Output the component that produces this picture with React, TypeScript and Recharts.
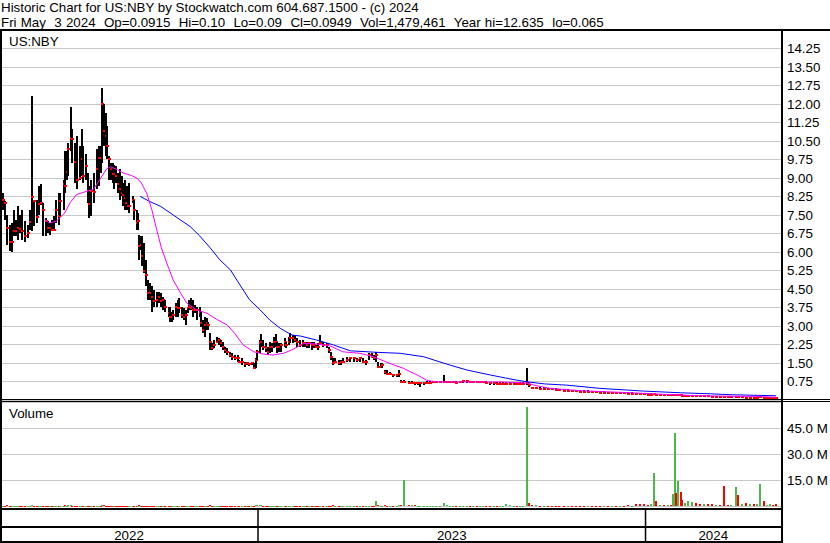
import React from 'react';
import { ComposedChart, Bar, Line, XAxis, YAxis, CartesianGrid } from 'recharts';

const FONT = '"Liberation Sans", Arial, Helvetica, sans-serif';
const FS = 13.33;

const headerLine1 = 'Historic Chart for US:NBY by Stockwatch.com 604.687.1500 - (c) 2024';
const headerLine2 = 'Fri May  3 2024  Op=0.0915  Hi=0.10  Lo=0.09  Cl=0.0949  Vol=1,479,461  Year hi=12.635  lo=0.065';
const symbolLabel = 'US:NBY';
const volumeLabel = 'Volume';

// x axis: calendar days counted from 2022-05-01
const xDomain: [number, number] = [1.98, 737.6];
const monthStartDays = [31, 61, 92, 123, 153, 184, 214, 245, 276, 304, 335, 365, 396, 426, 457, 488, 518, 549, 579, 610, 641, 670, 701, 731];
const yearStartDays = [245, 610];
const yearLabels = ['2022', '2023', '2024'];
const priceTicks = [0.75, 1.5, 2.25, 3, 3.75, 4.5, 5.25, 6, 6.75, 7.5, 8.25, 9, 9.75, 10.5, 11.25, 12, 12.75, 13.5, 14.25];
const volumeTicks = [15, 30, 45];

const barDays = [
  5, 7, 9, 11, 13, 15, 17, 19, 21, 23,
  26, 28, 30, 32, 34, 37, 39, 41, 43, 45,
  47, 49, 51, 53, 55, 58, 59, 62, 63, 65,
  66, 69, 70, 73, 75, 77, 79, 80, 83, 85,
  86, 88, 91, 93, 95, 97, 98, 100, 102, 103,
  105, 107, 108, 109, 111, 113, 115, 117, 118, 120,
  121, 123, 124, 127, 128, 131, 132, 133, 135, 136,
  138, 140, 141, 143, 144, 145, 147, 150, 152, 154,
  156, 157, 161, 162, 164, 165, 168, 170, 171, 173,
  175, 177, 179, 180, 182, 184, 186, 188, 190, 191,
  193, 195, 197, 198, 200, 202, 204, 206, 208, 210,
  212, 214, 216, 219, 221, 223, 226, 227, 230, 233,
  235, 237, 239, 241, 243, 244, 247, 248, 250, 253,
  254, 256, 258, 260, 262, 263, 265, 267, 270, 271,
  274, 275, 278, 280, 282, 285, 287, 289, 291, 293,
  296, 298, 300, 302, 303, 306, 310, 312, 314, 316,
  318, 321, 323, 325, 329, 332, 335, 338, 341, 344,
  347, 350, 352, 354, 356, 358, 361, 362, 365, 367,
  369, 372, 376, 378, 380, 383, 387, 390, 393, 396,
  398, 401, 404, 407, 410, 413, 416, 420, 423, 426,
  429, 432, 435, 438, 442, 445, 448, 451, 454, 457,
  460, 464, 467, 470, 473, 476, 479, 482, 486, 489,
  492, 495, 498, 500,
  503, 507, 511, 514, 518, 522, 526, 529, 533, 537,
  541, 545, 548, 552, 556, 560, 563, 567, 571, 575,
  578, 582, 586, 590, 594, 597, 601, 605, 609, 612,
  615, 618, 620, 624, 627, 631, 634, 636, 638, 639,
  641, 643, 644, 647, 650, 654, 658, 661, 665, 669,
  673, 676, 680, 684, 688, 691, 695, 697, 701, 705,
  708, 712, 715, 718, 722, 724, 727, 730, 733,
];

const barHigh = [
  8.40, 8.06, 7.52, 7.11, 7.20, 7.72, 7.32, 7.86, 7.52, 7.72,
  7.25, 7.11, 7.72, 12.33, 8.13, 8.13, 8.67, 8.74, 8.00, 7.38,
  7.25, 7.18, 7.32, 7.45, 8.13, 8.40, 8.40, 8.94, 10.10, 10.10,
  10.43, 11.86, 10.98, 10.43, 10.70, 10.30, 10.98, 10.30, 9.96, 9.21,
  8.67, 8.94, 9.21, 10.16, 10.30, 10.30, 12.64, 11.99, 11.65, 11.11,
  9.89, 9.62, 9.62, 9.55, 9.49, 9.21, 9.35, 9.08, 8.81, 8.94,
  8.67, 8.67, 8.81, 8.26, 8.13, 7.72, 7.59, 6.71, 6.64, 6.64,
  6.37, 5.69, 4.88, 4.74, 4.61, 4.61, 4.47, 4.40, 4.40, 4.34,
  4.20, 4.07, 3.79, 3.79, 3.59, 3.66, 3.93, 4.07, 4.13, 3.79,
  3.73, 3.66, 3.79, 4.07, 4.13, 4.07, 3.86, 3.79, 3.79, 3.59,
  3.25, 3.39, 3.32, 3.18, 2.71, 2.30, 2.44, 2.57, 2.51, 2.44,
  2.37, 2.17, 2.10, 1.96, 1.90, 1.83, 1.83, 1.63, 1.69, 1.56,
  1.56, 1.49, 1.56, 1.49, 1.69, 2.03, 2.44, 2.68, 2.44, 2.30,
  2.17, 2.37, 2.30, 2.57, 2.68, 2.37, 2.30, 2.30, 2.51, 2.37,
  2.57, 2.71, 2.64, 2.64, 2.51, 2.44, 2.44, 2.37, 2.37, 2.37,
  2.37, 2.37, 2.24, 2.30, 2.64, 2.37, 2.30, 2.17, 1.96, 1.69,
  1.69, 1.63, 1.63, 1.69, 1.76, 1.76, 1.76, 1.69, 1.76, 1.69,
  1.63, 1.90, 1.90, 1.83, 1.96, 1.56, 1.49, 1.49, 1.22, 1.22,
  1.15, 1.08, 1.08, 1.22, 0.81, 0.81, 0.77, 0.77, 0.74, 0.74,
  0.74, 0.74, 0.77, 0.77, 0.77, 0.77, 0.77, 1.02, 0.78, 0.78,
  0.78, 0.78, 0.78, 0.81, 0.81, 0.78, 0.78, 0.77, 0.77, 0.78,
  0.77, 0.74, 0.74, 0.74, 0.74, 0.74, 0.74, 0.74, 0.74, 0.74,
  0.74, 0.74, 1.29, 0.68,
  0.54, 0.55, 0.54, 0.52, 0.50, 0.50, 0.48, 0.46, 0.45, 0.44,
  0.43, 0.42, 0.41, 0.40, 0.40, 0.39, 0.38, 0.36, 0.36, 0.35,
  0.35, 0.34, 0.34, 0.33, 0.32, 0.32, 0.31, 0.30, 0.29, 0.29,
  0.28, 0.30, 0.27, 0.26, 0.25, 0.25, 0.24, 0.25, 0.27, 0.25,
  0.26, 0.24, 0.22, 0.22, 0.22, 0.21, 0.20, 0.19, 0.19, 0.18,
  0.18, 0.17, 0.17, 0.16, 0.16, 0.15, 0.16, 0.15, 0.14, 0.14,
  0.14, 0.13, 0.13, 0.14, 0.12, 0.12, 0.12, 0.11, 0.10,
];

const barLow = [
  7.72, 7.32, 6.30, 6.03, 6.00, 6.64, 6.64, 6.50, 6.78, 6.50,
  6.43, 6.57, 6.91, 6.84, 7.05, 7.18, 7.52, 7.90, 6.64, 6.64,
  6.78, 6.71, 6.84, 6.84, 7.18, 7.11, 7.45, 7.72, 8.40, 8.94,
  9.08, 10.09, 9.62, 8.81, 8.54, 8.94, 9.08, 8.81, 8.94, 8.00,
  7.39, 7.45, 8.00, 8.54, 8.67, 9.21, 9.62, 10.30, 9.89, 9.76,
  8.94, 8.94, 8.81, 8.54, 8.81, 8.40, 8.13, 8.26, 7.86, 7.72,
  7.72, 7.72, 7.59, 8.00, 7.32, 6.91, 6.91, 5.69, 6.10, 5.42,
  5.15, 4.61, 4.07, 4.07, 4.20, 3.59, 3.79, 3.79, 3.93, 3.79,
  3.66, 3.59, 3.39, 3.18, 3.18, 3.25, 3.39, 3.39, 3.52, 3.32,
  3.25, 3.05, 3.52, 3.66, 3.66, 3.39, 3.52, 3.25, 3.39, 2.98,
  2.71, 2.57, 2.85, 2.85, 2.03, 2.03, 2.10, 2.30, 2.24, 2.17,
  2.03, 1.90, 1.83, 1.76, 1.63, 1.63, 1.56, 1.49, 1.42, 1.35,
  1.42, 1.38, 1.42, 1.29, 1.29, 1.63, 1.90, 2.17, 2.03, 1.96,
  1.83, 1.90, 1.96, 2.10, 2.17, 1.90, 1.96, 1.96, 2.17, 2.10,
  2.24, 2.30, 2.30, 2.37, 2.17, 2.17, 2.17, 2.17, 2.10, 2.10,
  2.03, 2.10, 2.10, 2.03, 2.24, 2.17, 2.10, 1.90, 1.63, 1.42,
  1.49, 1.42, 1.42, 1.49, 1.56, 1.56, 1.56, 1.56, 1.56, 1.49,
  1.42, 1.63, 1.69, 1.63, 1.56, 1.29, 1.29, 1.29, 1.08, 1.02,
  1.02, 0.95, 0.95, 0.95, 0.68, 0.68, 0.65, 0.65, 0.61, 0.61,
  0.54, 0.61, 0.65, 0.65, 0.68, 0.68, 0.68, 0.68, 0.70, 0.70,
  0.68, 0.65, 0.68, 0.70, 0.70, 0.68, 0.68, 0.68, 0.68, 0.68,
  0.65, 0.61, 0.61, 0.61, 0.61, 0.61, 0.61, 0.61, 0.61, 0.61,
  0.61, 0.61, 0.61, 0.54,
  0.47, 0.46, 0.41, 0.42, 0.41, 0.41, 0.38, 0.37, 0.35, 0.35,
  0.34, 0.33, 0.32, 0.31, 0.31, 0.30, 0.30, 0.28, 0.27, 0.27,
  0.27, 0.26, 0.25, 0.25, 0.24, 0.24, 0.23, 0.22, 0.21, 0.21,
  0.20, 0.20, 0.20, 0.19, 0.18, 0.18, 0.17, 0.17, 0.18, 0.18,
  0.18, 0.17, 0.17, 0.16, 0.16, 0.15, 0.14, 0.13, 0.13, 0.12,
  0.12, 0.12, 0.11, 0.10, 0.10, 0.10, 0.10, 0.10, 0.09, 0.09,
  0.09, 0.09, 0.08, 0.08, 0.065, 0.08, 0.08, 0.08, 0.09,
];

const barClose = [
  8.10, 8.00, 6.98, 6.39, 6.43, 6.84, 6.84, 6.98, 6.95, 6.87,
  6.67, 6.78, 7.24, 8.22, 8.06, 7.43, 7.95, 8.00, 7.72, 7.25,
  6.98, 6.98, 6.91, 6.91, 7.72, 7.45, 8.06, 8.77, 8.67, 9.24,
  10.16, 10.64, 10.57, 9.65, 8.94, 9.01, 9.76, 9.08, 9.48, 8.47,
  7.93, 8.47, 8.43, 9.35, 9.82, 9.80, 12.02, 10.90, 10.70, 10.30,
  9.76, 9.35, 9.15, 9.15, 9.08, 8.74, 8.54, 8.40, 8.33, 8.20,
  8.00, 7.86, 7.86, 8.10, 7.72, 7.18, 7.25, 6.26, 6.30, 5.83,
  5.22, 5.08, 4.34, 4.40, 4.34, 4.20, 4.00, 4.07, 4.20, 4.00,
  4.07, 3.79, 3.52, 3.39, 3.39, 3.46, 3.79, 3.73, 3.73, 3.46,
  3.39, 3.46, 3.73, 3.79, 3.73, 3.66, 3.66, 3.66, 3.52, 3.12,
  2.85, 3.05, 3.12, 3.05, 2.37, 2.10, 2.24, 2.37, 2.44, 2.30,
  2.17, 2.03, 1.96, 1.83, 1.76, 1.69, 1.69, 1.56, 1.56, 1.46,
  1.49, 1.46, 1.49, 1.30, 1.63, 1.96, 2.30, 2.37, 2.17, 2.10,
  1.96, 2.17, 2.17, 2.37, 2.37, 2.17, 2.17, 2.24, 2.37, 2.24,
  2.37, 2.51, 2.51, 2.44, 2.37, 2.24, 2.30, 2.30, 2.24, 2.30,
  2.24, 2.24, 2.17, 2.14, 2.30, 2.24, 2.24, 2.03, 1.76, 1.49,
  1.56, 1.49, 1.56, 1.56, 1.63, 1.69, 1.69, 1.63, 1.69, 1.56,
  1.56, 1.83, 1.76, 1.69, 1.83, 1.35, 1.35, 1.42, 1.15, 1.08,
  1.08, 1.02, 1.02, 1.08, 0.74, 0.74, 0.70, 0.70, 0.68, 0.68,
  0.68, 0.68, 0.70, 0.70, 0.73, 0.73, 0.73, 0.74, 0.74, 0.74,
  0.74, 0.70, 0.73, 0.76, 0.76, 0.73, 0.73, 0.72, 0.72, 0.73,
  0.70, 0.68, 0.68, 0.65, 0.65, 0.65, 0.65, 0.65, 0.65, 0.64,
  0.64, 0.64, 0.68, 0.61,
  0.50, 0.50, 0.46, 0.47, 0.45, 0.44, 0.41, 0.40, 0.38, 0.38,
  0.37, 0.36, 0.35, 0.34, 0.34, 0.33, 0.32, 0.31, 0.31, 0.30,
  0.30, 0.29, 0.29, 0.28, 0.27, 0.27, 0.26, 0.25, 0.24, 0.23,
  0.23, 0.25, 0.22, 0.22, 0.21, 0.21, 0.20, 0.21, 0.22, 0.21,
  0.22, 0.20, 0.19, 0.19, 0.19, 0.19, 0.17, 0.16, 0.16, 0.15,
  0.14, 0.14, 0.13, 0.12, 0.11, 0.11, 0.12, 0.11, 0.11, 0.105,
  0.105, 0.10, 0.10, 0.11, 0.10, 0.10, 0.10, 0.095, 0.0949,
];

// volume in millions of shares
const barVolume = [
  0.4, 0.3, 0.5, 0.4, 0.3, 0.3, 0.2, 0.3, 0.3, 0.2,
  0.3, 0.2, 0.3, 0.8, 0.4, 0.3, 0.3, 0.2, 0.3, 0.3,
  0.2, 0.2, 0.3, 0.2, 0.3, 0.3, 0.3, 0.4, 0.6, 0.4,
  0.5, 0.5, 0.4, 0.4, 0.4, 0.3, 0.4, 0.3, 0.3, 0.3,
  0.3, 0.3, 0.3, 0.3, 0.3, 0.3, 0.7, 0.5, 0.4, 0.3,
  0.3, 0.3, 0.2, 0.2, 0.2, 0.2, 0.3, 0.2, 0.2, 0.2,
  0.2, 0.2, 0.2, 0.2, 0.3, 0.3, 0.2, 0.5, 0.3, 0.4,
  0.4, 0.4, 0.3, 0.3, 0.3, 0.3, 0.2, 0.2, 0.2, 0.2,
  0.2, 0.2, 0.3, 0.3, 0.2, 0.2, 0.3, 0.2, 0.2, 0.2,
  0.2, 0.3, 0.2, 0.2, 0.2, 0.2, 0.2, 0.2, 0.2, 0.3,
  0.4, 0.3, 0.2, 0.2, 0.5, 0.4, 0.3, 0.3, 0.2, 0.2,
  0.3, 0.3, 0.3, 0.3, 0.3, 0.3, 0.3, 0.3, 0.3, 0.3,
  0.3, 0.3, 0.3, 0.4, 1.0, 0.8, 0.6, 0.5, 0.4, 0.4,
  0.3, 0.4, 0.3, 0.4, 0.4, 0.3, 0.3, 0.3, 0.3, 0.3,
  0.3, 0.3, 0.3, 0.3, 0.3, 0.3, 0.3, 0.3, 0.3, 0.3,
  0.3, 0.3, 0.3, 0.3, 0.4, 0.3, 0.3, 0.3, 0.4, 0.5,
  0.3, 0.3, 0.3, 0.3, 0.3, 0.3, 0.3, 0.3, 0.3, 0.3,
  0.3, 0.4, 0.3, 0.3, 3.0, 0.8, 0.4, 0.4, 0.5, 0.4,
  0.4, 0.4, 0.4, 1.0, 0.6, 15.4, 1.0, 0.5, 0.5, 0.4,
  0.4, 0.4, 0.4, 0.4, 0.4, 0.4, 0.4, 2.0, 0.6, 0.4,
  0.4, 0.4, 0.4, 0.4, 0.4, 0.4, 0.4, 0.4, 0.4, 0.4,
  0.4, 0.4, 0.4, 0.4, 0.4, 0.4, 1.2, 0.5, 0.4, 0.4,
  0.4, 0.4, 57.5, 1.8,
  0.6, 0.5, 0.4, 0.4, 0.4, 0.3, 0.4, 0.3, 0.4, 0.3,
  0.3, 0.4, 0.3, 0.3, 0.4, 0.3, 0.3, 0.4, 0.3, 0.4,
  0.3, 0.4, 0.3, 0.4, 0.5, 0.4, 1.3, 1.5, 1.2, 1.0,
  1.2, 19.4, 3.2, 0.8, 0.8, 0.9, 1.0, 7.0, 42.5, 7.5,
  14.8, 8.2, 3.5, 2.0, 3.0, 2.5, 2.0, 1.5, 1.5, 1.5,
  1.2, 1.0, 1.0, 11.7, 1.0, 1.0, 11.1, 6.5, 1.5, 1.8,
  1.5, 1.5, 1.2, 12.9, 3.0, 1.0, 1.5, 0.8, 1.48,
];

// short moving average (magenta)
const maShortDays = [
  44, 49, 55, 63, 68, 74, 84, 90, 96, 102,
  106, 112, 118, 126, 131, 135, 140, 145, 150, 154,
  159, 165, 172, 178, 187, 197, 206, 216, 223, 231,
  241, 250, 259, 269, 278, 288, 300, 313, 325, 341,
  354, 369, 382, 395, 404, 413, 442, 473, 498, 506,
  520, 551, 598, 630, 643, 661, 680, 714, 733,
];
const maShortValues = [
  7.32, 7.18, 7.25, 7.59, 8.0, 8.33, 8.47, 8.54, 8.94, 9.35,
  9.46, 9.35, 9.21, 9.1, 9.0, 8.81, 8.4, 7.72, 6.84, 6.17,
  5.56, 4.88, 4.34, 3.93, 3.66, 3.52, 3.28, 3.05, 2.71, 2.24,
  1.96, 1.87, 1.83, 1.9, 2.06, 2.3, 2.28, 2.2, 1.96, 1.9,
  1.76, 1.49, 1.29, 1.02, 0.81, 0.74, 0.74, 0.74, 0.7, 0.6,
  0.48, 0.38, 0.3, 0.23, 0.21, 0.18, 0.17, 0.15, 0.12,
];

// long moving average (blue)
const maLongDays = [
  134, 143, 153, 162, 172, 181, 190, 200, 209, 219,
  228, 237, 247, 256, 266, 277, 285, 300, 316, 332,
  357, 379, 401, 426, 442, 464, 478, 489, 499, 515,
  536, 567, 608, 643, 671, 692, 733,
];
const maLongValues = [
  8.26, 8.05, 7.86, 7.6, 7.3, 7.04, 6.66, 6.17, 5.69, 5.28,
  4.67, 4.07, 3.66, 3.25, 2.91, 2.64, 2.6, 2.44, 2.24, 2.0,
  1.94, 1.9, 1.76, 1.42, 1.22, 1.02, 0.9, 0.81, 0.74, 0.66,
  0.61, 0.48, 0.37, 0.3, 0.26, 0.22, 0.18,
];

// ---- tables built from the arrays ----
const volumeRows = barDays.map((d, i) => ({
  d,
  v: barVolume[i],
  up: i === 0 || barClose[i] >= barClose[i - 1],
}));

const rowMap = new Map<number, any>();
const getRow = (d: number) => {
  if (!rowMap.has(d)) rowMap.set(d, { d });
  return rowMap.get(d);
};
barDays.forEach((d, i) => {
  const r = getRow(d);
  r.hl = [barLow[i], barHigh[i]];
  r.h = barHigh[i];
  r.l = barLow[i];
  r.c = barClose[i];
});
maShortDays.forEach((d, i) => { getRow(d).maShort = maShortValues[i]; });
maLongDays.forEach((d, i) => { getRow(d).maLong = maLongValues[i]; });
const priceRows = Array.from(rowMap.values()).sort((a, b) => a.d - b.d);

const sectionBounds = [xDomain[0], ...yearStartDays, xDomain[1]];
const yearLabelDays = yearLabels.map((_, i) => (sectionBounds[i] + sectionBounds[i + 1]) / 2);
const bottomAxisTicks = [...yearLabelDays, ...yearStartDays].sort((a, b) => a - b);

// ---- shapes & ticks ----
const OhlcShape = (props: any) => {
  const { x, y, width, height, payload } = props;
  if (!payload || !payload.hl || x == null || y == null) return null;
  const cx = Math.round(x + (width || 0) / 2);
  const top = Math.min(y, y + height);
  const hgt = Math.abs(height);
  const span = payload.h - payload.l;
  const yc = span > 0 ? top + (hgt * (payload.h - payload.c)) / span : top;
  return (
    <g>
      <rect x={cx - 1} y={top} width={2} height={Math.max(hgt, 1)} fill="#000" shapeRendering="crispEdges" />
      <rect x={cx - 1} y={Math.round(yc) - 1} width={3} height={2} fill="#ff0000" shapeRendering="crispEdges" />
    </g>
  );
};

const VolShape = (props: any) => {
  const { x, y, width, height, payload } = props;
  if (!payload || x == null || y == null) return null;
  const cx = Math.round(x + (width || 0) / 2);
  const top = Math.min(y, y + height);
  const hgt = Math.abs(height);
  return (
    <rect
      x={cx - 1}
      y={top}
      width={2}
      height={Math.max(hgt, 1)}
      fill={payload.up ? '#4cb84c' : '#ff0000'}
      shapeRendering="crispEdges"
    />
  );
};

const PriceTick = (props: any) => {
  const { x, y, payload } = props;
  return (
    <text x={x} y={y} dy="0.36em" textAnchor="start" fontFamily={FONT} fontSize={FS} fill="#000">
      {Number(payload.value).toFixed(2)}
    </text>
  );
};

const VolTick = (props: any) => {
  const { x, y, payload } = props;
  return (
    <text x={x} y={y} dy="0.36em" textAnchor="start" fontFamily={FONT} fontSize={FS} fill="#000">
      {`${Number(payload.value).toFixed(1)} M`}
    </text>
  );
};

const BottomTick = (props: any) => {
  const { x, y, payload } = props;
  const v = payload.value;
  if (yearStartDays.includes(v)) {
    return <line x1={x} x2={x} y1={y + 2} y2={y + 35} stroke="#000" strokeWidth={1.5} />;
  }
  const idx = yearLabelDays.findIndex((d) => Math.abs(d - v) < 1e-6);
  if (idx < 0) return null;
  return (
    <text x={x} y={y} dy={33.7} textAnchor="middle" fontFamily={FONT} fontSize={FS} fill="#000">
      {yearLabels[idx]}
    </text>
  );
};

const line = (style: React.CSSProperties) => (
  <div style={{ position: 'absolute', background: '#000', ...style }} />
);

export default function App() {
  return (
    <div
      style={{
        position: 'absolute',
        left: 0,
        top: 0,
        width: 830,
        height: 543,
        background: '#fff',
        overflow: 'hidden',
        fontFamily: FONT,
        fontSize: FS,
        color: '#000',
      }}
    >
      <style>{`.recharts-cartesian-grid line{shape-rendering:crispEdges}`}</style>
      <div style={{ position: 'absolute', left: 1, top: 0, lineHeight: '15px', whiteSpace: 'pre' }}>{headerLine1}</div>
      <div style={{ position: 'absolute', left: 1, top: 14.5, lineHeight: '15px', whiteSpace: 'pre', wordSpacing: 0.5 }}>{headerLine2}</div>

      <div style={{ position: 'absolute', left: 0, top: 0 }}>
        <ComposedChart width={830} height={401} data={priceRows} margin={{ top: 30, right: 0, bottom: 0.8, left: 0 }}>
          <CartesianGrid stroke="#c8c8c8" />
          <XAxis
            dataKey="d"
            type="number"
            domain={xDomain}
            ticks={monthStartDays}
            interval={0}
            height={0}
            tick={false}
            axisLine={false}
            tickLine={false}
            allowDataOverflow
          />
          <YAxis
            orientation="right"
            width={49}
            type="number"
            domain={[0, 15]}
            ticks={priceTicks}
            interval={0}
            tick={<PriceTick />}
            tickSize={0}
            tickMargin={6}
            axisLine={false}
            tickLine={false}
          />
          <Bar dataKey="hl" barSize={2} shape={OhlcShape} isAnimationActive={false} />
          <Line dataKey="maLong" type="linear" stroke="#0000ff" strokeWidth={1} dot={false} activeDot={false} connectNulls isAnimationActive={false} />
          <Line dataKey="maShort" type="linear" stroke="#ff00ff" strokeWidth={1} dot={false} activeDot={false} connectNulls isAnimationActive={false} />
        </ComposedChart>
      </div>

      <div style={{ position: 'absolute', left: 0, top: 402 }}>
        <ComposedChart width={830} height={141} data={volumeRows} margin={{ top: 0.3, right: 0, bottom: 0, left: 0 }}>
          <CartesianGrid stroke="#c8c8c8" />
          <XAxis
            dataKey="d"
            type="number"
            domain={xDomain}
            ticks={monthStartDays}
            interval={0}
            height={0}
            tick={false}
            axisLine={false}
            tickLine={false}
            allowDataOverflow
          />
          <XAxis
            xAxisId="bottom"
            dataKey="d"
            type="number"
            domain={xDomain}
            ticks={bottomAxisTicks}
            interval={0}
            height={36.7}
            tick={<BottomTick />}
            tickSize={0}
            tickMargin={0}
            axisLine={false}
            tickLine={false}
            allowDataOverflow
          />
          <YAxis
            orientation="right"
            width={49}
            type="number"
            domain={[0, 60]}
            ticks={volumeTicks}
            interval={0}
            tick={<VolTick />}
            tickSize={0}
            tickMargin={6}
            axisLine={false}
            tickLine={false}
          />
          <Bar dataKey="v" barSize={2} shape={VolShape} isAnimationActive={false} />
        </ComposedChart>
      </div>

      <div style={{ position: 'absolute', left: 9, top: 33.6, lineHeight: '15px' }}>{symbolLabel}</div>
      <div style={{ position: 'absolute', left: 9, top: 405.6, lineHeight: '15px' }}>{volumeLabel}</div>

      {line({ left: 0, top: 29, width: 830, height: 2 })}
      {line({ left: 0, top: 29, width: 2, height: 514 })}
      {line({ left: 781, top: 29, width: 2, height: 514 })}
      {line({ left: 0, top: 399, width: 830, height: 1 })}
      {line({ left: 0, top: 401, width: 830, height: 1 })}
      {line({ left: 0, top: 508, width: 783, height: 2 })}
      {line({ left: 0, top: 526, width: 783, height: 1.5 })}
      {line({ left: 0, top: 541, width: 783, height: 2 })}
    </div>
  );
}
